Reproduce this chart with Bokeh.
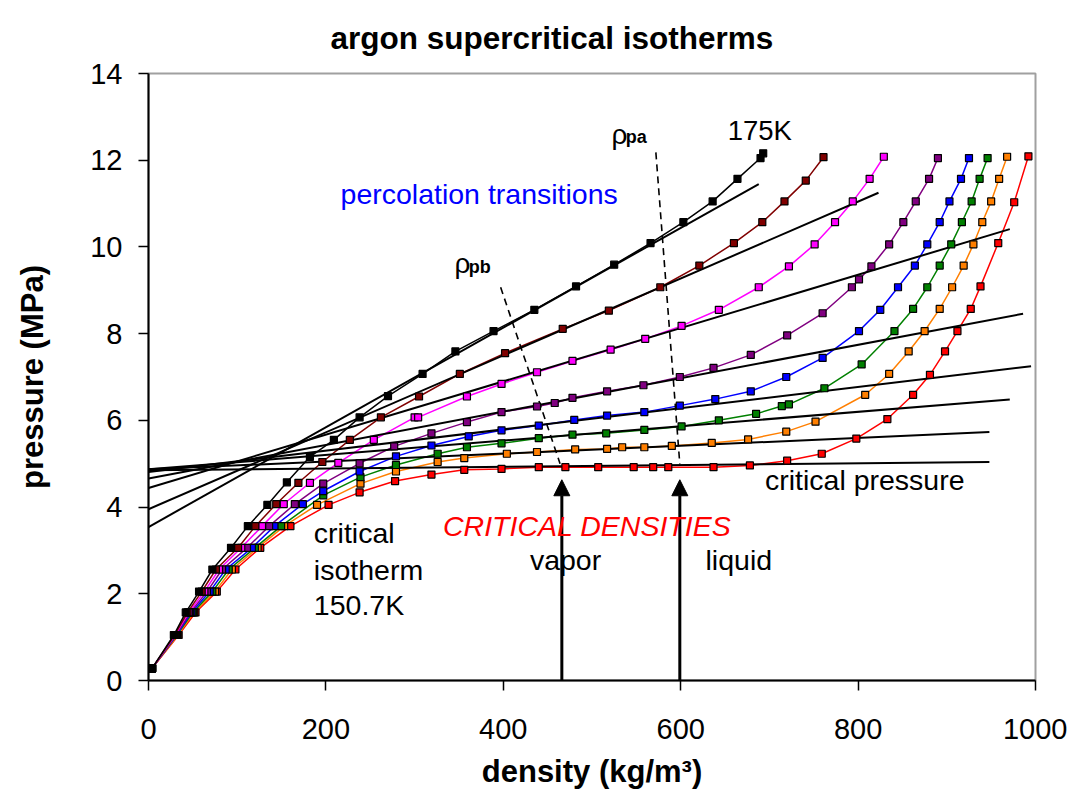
from bokeh.plotting import figure
from bokeh.models import Range1d, FixedTicker, Label, Arrow, NormalHead
from bokeh.embed import file_html
from bokeh.resources import INLINE

# ---------------- data (density kg/m3, pressure MPa) ----------------
rho_red = [4, 34, 53, 77, 98, 126, 160, 203, 238, 278, 319, 356, 398, 440, 470, 507, 547, 569, 586, 637, 678, 720, 759, 798, 833, 862, 881, 898, 912, 927, 938, 958, 976, 992]
p_red = [0.28, 1.05, 1.57, 2.05, 2.56, 3.06, 3.56, 4.05, 4.34, 4.60, 4.75, 4.86, 4.88, 4.92, 4.92, 4.92, 4.92, 4.92, 4.92, 4.92, 4.96, 5.07, 5.23, 5.58, 6.03, 6.59, 7.05, 7.59, 8.06, 8.57, 9.09, 10.09, 11.03, 12.09]

rho_orange = [4, 33, 51.5, 75, 94, 123, 153, 190, 239, 279, 326, 356, 404, 438, 481, 517, 534, 559, 590, 635, 676, 719, 752, 808, 835, 857, 875, 892, 906, 919, 930, 940, 950, 959, 968]
p_orange = [0.28, 1.05, 1.57, 2.05, 2.56, 3.06, 3.56, 4.05, 4.54, 4.82, 5.04, 5.13, 5.23, 5.27, 5.33, 5.34, 5.38, 5.38, 5.41, 5.48, 5.56, 5.74, 5.97, 6.59, 7.07, 7.59, 8.06, 8.57, 9.07, 9.57, 10.06, 10.57, 11.05, 11.57, 12.08]

rho_green = [4, 32, 50, 72, 90.5, 120, 149.5, 197, 239, 279, 326, 359, 398, 440, 478, 516, 559, 601, 643, 685, 714, 722, 762, 804, 841, 862, 878, 892, 905, 917, 928, 937, 946]
p_green = [0.28, 1.05, 1.57, 2.05, 2.56, 3.06, 3.56, 4.27, 4.69, 4.97, 5.23, 5.38, 5.47, 5.59, 5.67, 5.70, 5.78, 5.86, 6.00, 6.15, 6.33, 6.37, 6.74, 7.29, 8.06, 8.57, 9.07, 9.57, 10.06, 10.57, 11.05, 11.57, 12.05]

rho_blue = [4, 31.5, 48.5, 69, 87, 116.6, 142, 174, 197, 238, 279, 319, 361, 398, 440, 480, 517, 559, 599, 639, 679, 719, 760, 801, 825, 845, 864, 878, 892, 903, 916, 925]
p_blue = [0.28, 1.05, 1.57, 2.05, 2.56, 3.06, 3.56, 4.07, 4.37, 4.82, 5.17, 5.42, 5.63, 5.77, 5.88, 6.01, 6.11, 6.19, 6.34, 6.49, 6.67, 7.00, 7.44, 8.06, 8.55, 9.07, 9.57, 10.06, 10.57, 11.05, 11.57, 12.05]

rho_purple = [4, 31, 47, 66, 83, 111, 136, 165, 197, 238, 277, 319, 359, 398, 438, 458, 478, 517, 558, 599, 637, 679, 720, 760, 793, 801, 815, 835, 851, 865, 880, 890]
p_purple = [0.28, 1.05, 1.57, 2.05, 2.56, 3.06, 3.56, 4.07, 4.54, 5.01, 5.40, 5.70, 5.96, 6.19, 6.32, 6.40, 6.52, 6.67, 6.81, 7.00, 7.21, 7.51, 7.96, 8.47, 9.07, 9.25, 9.55, 10.06, 10.57, 11.05, 11.57, 12.05]

rho_magenta = [4, 30, 45.5, 63, 79.5, 104.6, 128, 152.5, 182, 214, 254, 300, 304, 359, 398, 438, 478, 521, 560, 601, 643, 688, 722, 751, 774, 794, 813, 829]
p_magenta = [0.28, 1.05, 1.57, 2.05, 2.56, 3.06, 3.56, 4.07, 4.56, 5.02, 5.55, 6.07, 6.07, 6.55, 6.84, 7.11, 7.37, 7.63, 7.88, 8.18, 8.55, 9.07, 9.55, 10.06, 10.57, 11.05, 11.57, 12.08]

rho_brown = [4, 29.5, 44, 60, 76, 101, 120.5, 144, 169, 196, 227, 262, 305, 351, 402, 467, 519, 577, 621, 660, 692, 717, 741, 761]
p_brown = [0.28, 1.05, 1.57, 2.05, 2.56, 3.06, 3.56, 4.07, 4.56, 5.04, 5.55, 6.07, 6.55, 7.07, 7.55, 8.11, 8.53, 9.07, 9.57, 10.09, 10.57, 11.05, 11.53, 12.07]

rho_black = [4, 28.6, 42, 57, 72, 93, 112, 134, 156, 182, 209, 238, 270, 309, 346, 389, 435, 482, 525, 566, 603, 636, 664, 690, 693]
p_black = [0.28, 1.05, 1.57, 2.05, 2.56, 3.06, 3.56, 4.05, 4.57, 5.16, 5.55, 6.07, 6.56, 7.07, 7.59, 8.06, 8.55, 9.09, 9.59, 10.09, 10.57, 11.05, 11.57, 12.05, 12.16]

# tangent (percolation) lines: start/end density and pressure
tan_rho_start = [0, 0, 0, 0, 0, 0, 0, 0]
tan_p_start = [4.85, 4.87, 4.87, 4.81, 4.66, 4.44, 3.95, 3.54]
tan_rho_end = [948, 948, 971, 995, 986, 971, 823, 688]
tan_p_end = [5.04, 5.73, 6.48, 7.25, 8.46, 10.41, 11.25, 11.45]

# percolation loci (dashed)
rho_pb_line = [397, 464]
p_pb_line = [9.07, 5.00]
rho_pa_line = [572, 599]
p_pa_line = [12.18, 4.99]

# critical densities (arrows)
rho_crit_vapor = 466
rho_crit_liquid = 599
p_arrow_tip = 4.63

x_ticks = [0, 200, 400, 600, 800, 1000]
y_ticks = [0, 2, 4, 6, 8, 10, 12, 14]

series = [
    (rho_red, p_red, "#FF0000"),
    (rho_orange, p_orange, "#FF7F00"),
    (rho_green, p_green, "#008000"),
    (rho_blue, p_blue, "#0000FF"),
    (rho_purple, p_purple, "#800080"),
    (rho_magenta, p_magenta, "#FF00FF"),
    (rho_brown, p_brown, "#800000"),
    (rho_black, p_black, "#000000"),
]

FONT = "Liberation Sans"
W, H = 1067, 795

p = figure(width=W, height=H, output_backend="svg", toolbar_location=None,
           x_range=Range1d(0, 1000), y_range=Range1d(0, 14),
           min_border_left=148, min_border_right=W - 1035, min_border_top=73,
           min_border_bottom=H - 680)
p.grid.visible = False
p.outline_line_color = "#a0a0a0"
p.outline_line_width = 2
p.background_fill_color = "white"
p.border_fill_color = "white"

p.title.text = "argon supercritical isotherms"
p.title.align = "left"
p.title.offset = 182
p.title.text_font = FONT
p.title.text_font_size = "31.5px"
p.title.text_font_style = "bold"
p.title.text_color = "black"
p.title.standoff = 35

for ax, ticks in ((p.xaxis, x_ticks), (p.yaxis, y_ticks)):
    ax.ticker = FixedTicker(ticks=ticks)
    ax.axis_line_color = "black"
    ax.axis_line_width = 2
    ax.major_tick_line_color = "black"
    ax.major_tick_line_width = 1.5
    ax.major_tick_out = 10
    ax.major_tick_in = 0
    ax.minor_tick_line_color = None
    ax.major_label_text_font = FONT
    ax.major_label_text_font_size = "29px"
    ax.major_label_text_color = "black"
    ax.axis_label_text_font = FONT
    ax.axis_label_text_font_size = "31px"
    ax.axis_label_text_font_style = "bold"
    ax.axis_label_text_color = "black"

p.xaxis.axis_label = "density (kg/m\u00b3)"
p.yaxis.axis_label = "pressure (MPa)"
p.xaxis.major_label_standoff = 28
p.yaxis.major_label_standoff = 16
p.xaxis.axis_label_standoff = 12
p.yaxis.axis_label_standoff = 37

# isotherm curves
for rr, pp, c in series:
    p.line(rr, pp, line_color=c, line_width=1.5)

# tangent lines
for i in range(len(tan_p_start)):
    p.line([tan_rho_start[i], tan_rho_end[i]], [tan_p_start[i], tan_p_end[i]],
           line_color="black", line_width=2)

# dashed percolation loci
p.line(rho_pb_line, p_pb_line, line_color="black", line_width=1.6, line_dash="7 5")
p.line(rho_pa_line, p_pa_line, line_color="black", line_width=1.6, line_dash="7 5")

# markers
for rr, pp, c in series:
    p.scatter(rr, pp, marker="square", size=7, fill_color=c, line_color="black",
              line_width=1.2)

# arrows for critical densities
for xr in (rho_crit_vapor, rho_crit_liquid):
    p.add_layout(Arrow(end=NormalHead(size=16, fill_color="black", line_color="black"),
                       x_start=xr, y_start=0, x_end=xr, y_end=p_arrow_tip,
                       line_color="black", line_width=3))

def lab(x, y, t, size="28.5px", color="black", style="normal"):
    p.add_layout(Label(x=x, y=y, text=t, text_font=FONT, text_font_size=size,
                       text_color=color, text_font_style=style,
                       text_baseline="alphabetic", text_align="left"))

DY = 0.23  # upward correction (about 10 px)
lab(216.5, 10.99 + DY, "percolation transitions", color="#0000FF")
lab(653, 12.45 + DY, "175K", size="27.5px")
lab(522, 12.37 + DY, "\u03c1", size="28px")
lab(538, 12.30 + DY, "pa", size="18px", style="bold")
lab(345, 9.38 + DY, "\u03c1", size="28px")
lab(361, 9.31 + DY, "pb", size="18px", style="bold")
lab(695, 4.39 + DY, "critical pressure")
lab(332, 3.34 + DY, "CRITICAL DENSITIES", color="#FF0000", style="italic")
lab(430, 2.56 + DY, "vapor")
lab(628, 2.56 + DY, "liquid")
lab(186.4, 3.17 + DY, "critical")
lab(186.4, 2.32 + DY, "isotherm")
lab(186.4, 1.50 + DY, "150.7K")

open("out.html", "w").write(file_html(p, INLINE))
